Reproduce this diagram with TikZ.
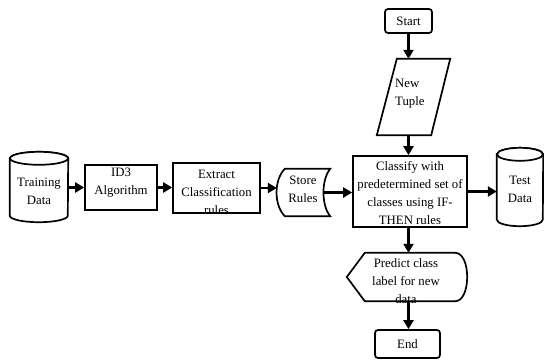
\documentclass[tikz,border=0pt]{standalone}
\usepackage{fontspec}
\setmainfont{Liberation Serif}
\usetikzlibrary{arrows.meta,calc}
\newcommand\drawcyl[2]{%
  \draw[shp] ($(#1.north west)+(0,6.5)$) -- ($(#1.south west)+(0,-6.5)$)
    arc[start angle=180,end angle=360,x radius=#2pt,y radius=6.5pt]
    -- ($(#1.north east)+(0,6.5)$)
    arc[start angle=0,end angle=180,x radius=#2pt,y radius=6.5pt] -- cycle;
  \draw[shp] ($(#1.north)+(0,6.5)$) ellipse[x radius=#2pt,y radius=6.5pt];}
\begin{document}
\begin{tikzpicture}[x=1pt,y=-1pt,
  shp/.style={draw=black, line width=1.7pt, fill=white},
  txt/.style={font=\fontsize{12.8}{18}\selectfont, align=center, inner sep=0pt},
  holder/.style={rectangle, inner sep=0pt, minimum width=#1},
  arr/.style={line width=2.3pt, -{Triangle[length=9pt,width=10pt]}},
  box/.style={shp, txt, rectangle},
]
\useasboundingbox (0,0) rectangle (544,360);

% right column
\node[box, rounded corners=3pt, minimum width=47pt, minimum height=24pt] (start) at (408.5,21) {Start};

\node[holder=73pt, minimum height=76pt] (nt) at (413.5,97) {};
\draw[shp] ($(nt.north west)+(20,0)$) -- (nt.north east) -- ($(nt.south east)+(-19,0)$) -- (nt.south west) -- cycle;
\node[txt, align=left, anchor=west] (ntT) at (395,94) {New\\Tuple};

\node[box, minimum width=114pt, minimum height=71pt] (cls) at (410,191.5) {};
\node[txt] (clsT) at (410,193) {Classify with\\predetermined set of\\classes using IF-\\THEN rules};

\node[holder=46pt, minimum height=78pt] (test) at (520,187) {};
\drawcyl{test}{23}
\node[txt] (testT) at (520,189) {Test\\Data};

\node[holder=120pt, minimum height=48pt] (pred) at (407,277) {};
\draw[shp] (pred.west) -- ($(pred.north west)+(18,0)$) -- ($(pred.north east)+(-12,0)$)
  .. controls +(16,0) and +(16,0) .. ($(pred.south east)+(-12,0)$) -- ($(pred.south west)+(18,0)$) -- cycle;
\node[txt] (predT) at (406,281) {Predict class\\label for new\\data};

\node[box, rounded corners=3pt, minimum width=65pt, minimum height=28pt] (endn) at (407.5,344) {End};

% left row
\node[holder=58pt, minimum height=70pt] (train) at (39,187) {};
\drawcyl{train}{29}
\node[txt] (trainT) at (39,191.5) {Training\\Data};

\node[box, minimum width=72pt, minimum height=45pt] (id3) at (121,187.5) {};
\node[txt] (id3T) at (121,183) {ID3\\Algorithm};

\node[box, minimum width=87pt, minimum height=50pt] (ext) at (216.5,188) {};
\node[txt] (extT) at (216.5,192.5) {Extract\\Classification\\rules};

\node[holder=53pt, minimum height=47pt] (store) at (303.5,192.5) {};
\draw[shp] ($(store.north west)+(8,0)$) -- (store.north east)
  .. controls +(-9,11) and +(-9,-11) .. (store.south east)
  -- ($(store.south west)+(8,0)$)
  .. controls +(-11,-11) and +(-11,11) .. ($(store.north west)+(8,0)$) -- cycle;
\node[txt] (storeT) at (303,189) {Store\\Rules};

% connectors
\draw[arr] (start.south) -- (start.south |- nt.north);
\draw[arr] (start.south |- nt.south) -- (start.south |- cls.north);
\draw[arr] (start.south |- cls.south) -- (start.south |- pred.north);
\draw[arr] (start.south |- pred.south) -- (start.south |- endn.north);
\draw[arr] (cls.east) -- (cls.east -| test.west);
\draw[arr] ($(store.east)+(-7,0)$) -- (store.east -| cls.west);
\draw[arr] (train.east |- id3.east) -- (id3.west);
\draw[arr] (id3.east) -- (id3.east -| ext.west);
\draw[arr] (ext.east) -- (ext.east -| store.west);
\end{tikzpicture}
\end{document}
